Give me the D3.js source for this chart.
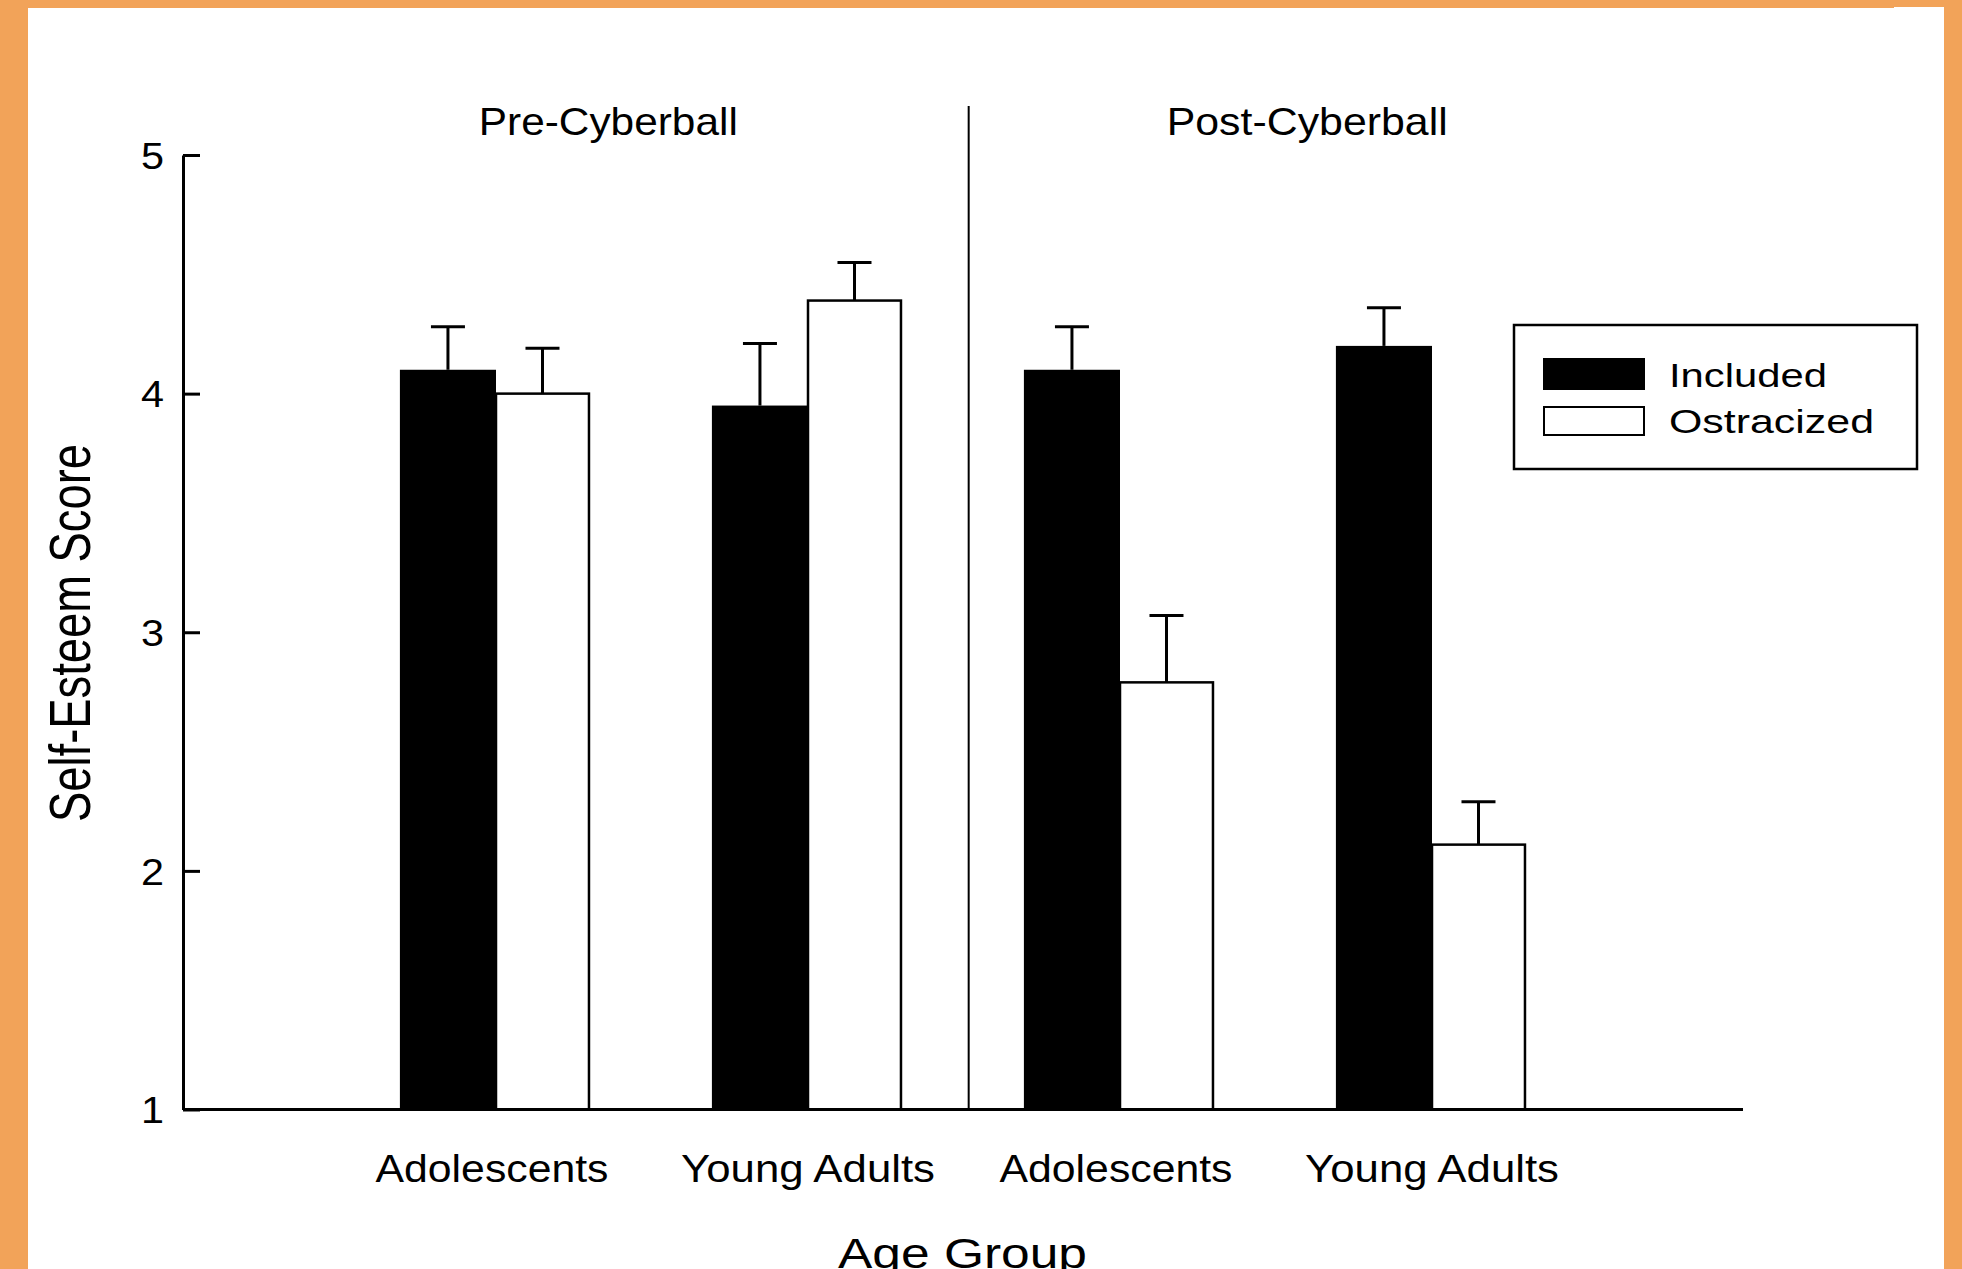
<!DOCTYPE html>
<html>
<head>
<meta charset="utf-8">
<script src="https://cdn.jsdelivr.net/npm/d3@7"></script>
<style>
  html, body { margin: 0; padding: 0; background: #fff; }
  svg { display: block; }
  text { font-family: "Liberation Sans", Arial, Helvetica, sans-serif; fill: #000; }
</style>
</head>
<body>
<svg id="chart" width="1962" height="1269"></svg>
<script>
// ---- data ----
const conditions = ["Pre-Cyberball", "Post-Cyberball"];
const categories = ["Adolescents", "Young Adults", "Adolescents", "Young Adults"];
const seriesNames = ["Included", "Ostracized"];
const includedMeans = [4.10, 3.95, 4.10, 4.20];
const includedErr = [0.18, 0.26, 0.18, 0.16];
const ostracizedMeans = [4.00, 4.39, 2.79, 2.11];
const ostracizedErr = [0.19, 0.16, 0.28, 0.18];
const yTicks = [1, 2, 3, 4, 5];
const xTitle = "Age Group";
const yTitle = "Self-Esteem Score";

// ---- layout ----
const W = 1962, H = 1269;
const svg = d3.select("#chart");

// frame
svg.append("rect").attr("x", 0).attr("y", 0).attr("width", W).attr("height", H).attr("fill", "#F2A359");
svg.append("rect").attr("x", 28).attr("y", 8).attr("width", 1944 - 28).attr("height", H - 8).attr("fill", "#fff");
svg.append("rect").attr("x", 1894).attr("y", 7).attr("width", 50).attr("height", 2).attr("fill", "#fff");

const x = d3.scaleLinear().domain([0, 5]).range([184, 1744]);
const y = d3.scaleLinear().domain([1, 5]).range([1109.5, 155]);
const barWInc = 0.308;   // in x units
const barWOst = 0.298;
const capHalf = 17;
const axisLeftX = 183;

const g = svg.append("g");

// bars data
const bars = [];
categories.forEach((c, i) => {
  bars.push({ pos: i + 1, side: -1, w: barWInc, v: includedMeans[i], e: includedErr[i], s: 0 });
  bars.push({ pos: i + 1, side: 1, w: barWOst, v: ostracizedMeans[i], e: ostracizedErr[i], s: 1 });
});

// error bars
const eg = g.append("g").attr("stroke", "#000").attr("stroke-width", 3);
bars.forEach(b => {
  const cx = x(b.pos + b.side * b.w / 2);
  eg.append("line").attr("x1", cx).attr("x2", cx).attr("y1", y(b.v)).attr("y2", y(b.v + b.e));
  eg.append("line").attr("x1", cx - capHalf).attr("x2", cx + capHalf).attr("y1", y(b.v + b.e)).attr("y2", y(b.v + b.e));
});

// bars
g.append("g").selectAll("rect").data(bars.filter(b => b.s === 0)).join("rect")
  .attr("x", b => x(b.pos - b.w)).attr("width", b => x(b.pos) - x(b.pos - b.w))
  .attr("y", b => y(b.v)).attr("height", b => y(1) - y(b.v))
  .attr("fill", "#000");
g.append("g").selectAll("rect").data(bars.filter(b => b.s === 1)).join("rect")
  .attr("x", b => x(b.pos)).attr("width", b => x(b.pos + b.w) - x(b.pos))
  .attr("y", b => y(b.v)).attr("height", b => y(1) - y(b.v))
  .attr("fill", "#fff").attr("stroke", "#000").attr("stroke-width", 2.5);

// divider
g.append("line").attr("x1", x(2.515)).attr("x2", x(2.515)).attr("y1", 106).attr("y2", y(1))
  .attr("stroke", "#000").attr("stroke-width", 2);

// y axis
const yAxis = d3.axisLeft(y).tickValues(yTicks).tickFormat(d3.format("d"))
  .tickSizeInner(-17).tickSizeOuter(0).tickPadding(19);
const ya = svg.append("g").attr("transform", `translate(${axisLeftX},0)`).call(yAxis);
ya.select(".domain").attr("stroke", "#000").attr("stroke-width", 3);
ya.selectAll(".tick line").attr("stroke", "#000").attr("stroke-width", 3);
ya.selectAll(".tick text").attr("font-size", 37).attr("dy", "0.36em")
  .attr("textLength", 23).attr("lengthAdjust", "spacingAndGlyphs")
  .style("font-family", "'Liberation Sans', Arial, sans-serif");

// x axis baseline + categories
const xAxis = d3.axisBottom(x).tickValues([1, 2, 3, 4]).tickFormat((d, i) => categories[i])
  .tickSize(0).tickPadding(44.5);
const xa = svg.append("g").attr("transform", `translate(0,${y(1)})`).call(xAxis);
xa.select(".domain").attr("stroke", "#000").attr("stroke-width", 3)
  .attr("d", `M${axisLeftX},0H${x(5) - 1}`);
xa.selectAll(".tick text").attr("font-size", 39)
  .attr("textLength", (d, i) => i % 2 === 0 ? 233 : 254).attr("lengthAdjust", "spacingAndGlyphs")
  .style("font-family", "'Liberation Sans', Arial, sans-serif");
xa.selectAll(".tick").attr("transform", (d, i) => `translate(${x(d) - (i % 2 === 0 ? 4 : 0)},0)`);

// condition titles
const titlePos = [1.36, 3.6];
svg.selectAll(".cond").data(conditions).join("text").attr("class", "cond")
  .attr("x", (d, i) => x(titlePos[i])).attr("y", 135)
  .attr("text-anchor", "middle").attr("font-size", 38.7)
  .attr("textLength", (d, i) => i === 0 ? 259 : 281).attr("lengthAdjust", "spacingAndGlyphs")
  .text(d => d);

// axis titles
svg.append("text").attr("x", 962.5).attr("y", 1268).attr("text-anchor", "middle")
  .attr("font-size", 43).attr("textLength", 249).attr("lengthAdjust", "spacingAndGlyphs").text(xTitle);
svg.append("text").attr("transform", "translate(90,633) rotate(-90)").attr("text-anchor", "middle")
  .attr("font-size", 58).attr("textLength", 378).attr("lengthAdjust", "spacingAndGlyphs").text(yTitle);

// legend
const lg = svg.append("g");
lg.append("rect").attr("x", 1514).attr("y", 325).attr("width", 403).attr("height", 144)
  .attr("fill", "#fff").attr("stroke", "#000").attr("stroke-width", 2.5);
const legendRows = [{ y0: 359, h: 30, fill: "#000", base: 387, len: 158 },
                    { y0: 407, h: 28, fill: "#fff", base: 433, len: 205 }];
seriesNames.forEach((name, i) => {
  const r = legendRows[i];
  lg.append("rect").attr("x", 1544).attr("y", r.y0).attr("width", 100).attr("height", r.h)
    .attr("fill", r.fill).attr("stroke", "#000").attr("stroke-width", 2);
  lg.append("text").attr("x", 1669).attr("y", r.base).attr("font-size", 33.5)
    .attr("textLength", r.len).attr("lengthAdjust", "spacingAndGlyphs").text(name);
});
</script>
</body>
</html>
